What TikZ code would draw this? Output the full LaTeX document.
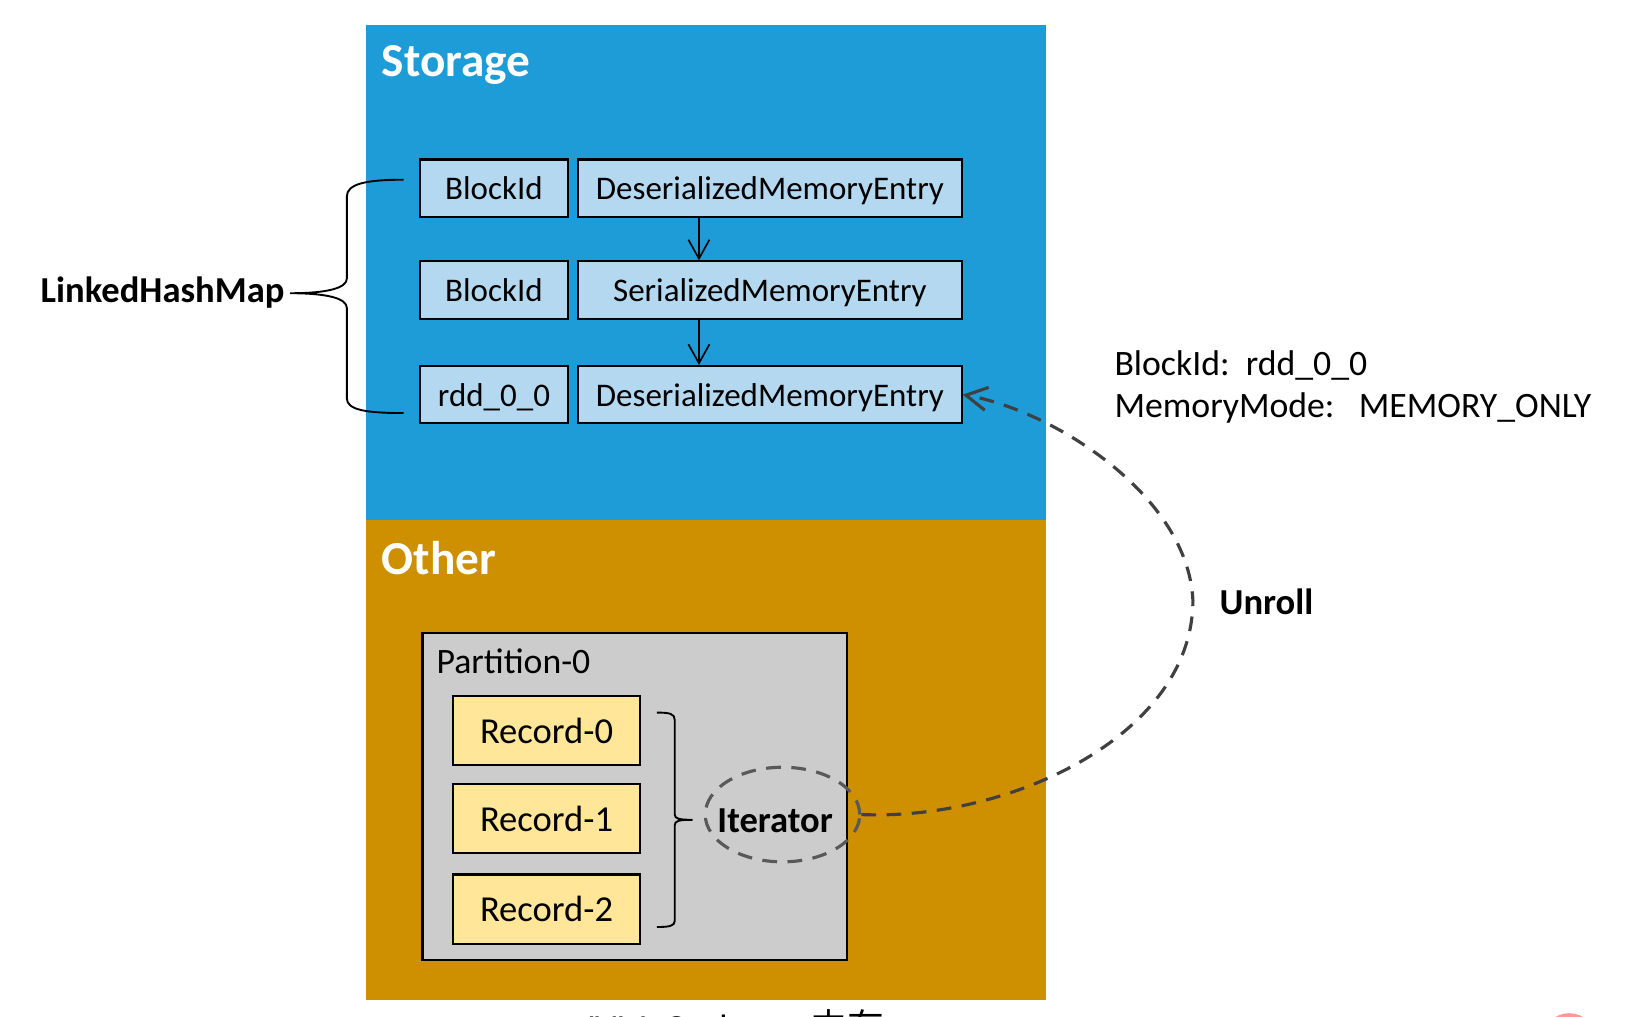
\documentclass[tikz,border=0pt]{standalone}
\usepackage{fontspec}
\setmainfont{Carlito}
\newfontfamily\cjk{Noto Sans CJK SC}
\usetikzlibrary{arrows.meta,shapes.geometric,calc}
\definecolor{storblue}{HTML}{1E9CD8}
\definecolor{othorange}{HTML}{CE8F00}
\definecolor{boxblue}{HTML}{B4D8EF}
\definecolor{recyellow}{HTML}{FFE699}
\definecolor{partgray}{HTML}{CCCCCC}
\definecolor{dashgray}{HTML}{404040}
\definecolor{ellgray}{HTML}{595959}
\tikzset{
  entrybox/.style={draw=black, line width=1pt, fill=boxblue, inner sep=0pt,
    minimum height=27.25pt, text height=13pt, text depth=2pt,
    font=\fontsize{15.7pt}{18pt}\selectfont},
  recbox/.style={draw=black, line width=1pt, fill=recyellow, inner sep=0pt,
    minimum width=89pt, minimum height=33pt, font=\fontsize{17.4pt}{20pt}\selectfont},
  flowarrow/.style={draw=black, line width=0.8pt, -{Straight Barb[length=9pt,width=10pt,line width=0.8pt]}},
  bracepath/.style={draw=black, line width=0.9pt},
  title/.style={text=white, font=\fontsize{22.5pt}{26pt}\selectfont\bfseries, inner sep=0pt},
  label/.style={font=\fontsize{17pt}{20pt}\selectfont, inner sep=0pt},
  boldlabel/.style={font=\fontsize{17.4pt}{20pt}\selectfont\bfseries, inner sep=0pt},
}
\begin{document}
\begin{tikzpicture}[x=0.5pt,y=-0.5pt]
\useasboundingbox (0,0) rectangle (1568,967);
\clip (0,0) rectangle (1568,967);
\fill[white] (0,0) rectangle (1568,967);

% regions
\fill[storblue] (348,24) rectangle (995,495);
\fill[othorange] (348,495) rectangle (995,951);
\node[title, anchor=base west] (storage) at (363,73) {Storage};
\node[title, anchor=base west] (other) at (363,547) {Other};

% storage entries
\node[entrybox, minimum width=70pt] (b1) at (470,179) {BlockId};
\node[entrybox, minimum width=182.5pt] (d1) at (732.5,179) {DeserializedMemoryEntry};
\node[entrybox, minimum width=70pt] (b2) at (470,276) {BlockId};
\node[entrybox, minimum width=182.5pt] (d2) at (732.5,276) {SerializedMemoryEntry};
\node[entrybox, minimum width=70pt] (b3) at (470,375.5) {rdd\_0\_0};
\node[entrybox, minimum width=182.5pt] (d3) at (732.5,375.5) {DeserializedMemoryEntry};

\coordinate (ax) at (665,0);
\draw[flowarrow] (d1.south -| ax) -- (d2.north -| ax);
\draw[flowarrow] (d2.south -| ax) -- (d3.north -| ax);

% LinkedHashMap brace
\node[boldlabel, anchor=base east] (lhm) at (271,288) {LinkedHashMap};
\coordinate (btip) at (276,279);
\draw[bracepath] (384,171) .. controls (348,171) and (330,175) .. (330,187)
  -- (330,265) .. controls (330,274) and (312,279) .. (btip)
  .. controls (312,279) and (330,284) .. (330,293)
  -- (330,379) .. controls (330,390) and (348,393) .. (384,393);

% partition
\node[draw=black, line width=1pt, fill=partgray, minimum width=202pt, minimum height=155.5pt, inner sep=0pt] (part) at (604,757.5) {};
\node[label, anchor=base west] (ptitle) at (415,641) {Partition-0};
\node[recbox] (r0) at (520,695) {Record-0};
\node[recbox] (r1) at (520,779) {Record-1};
\node[recbox] (r2) at (520,865) {Record-2};

% records brace
\draw[bracepath] (625,678) .. controls (637,678) and (642,679) .. (642,685)
  -- (642,775) .. controls (642,779) and (646,780) .. (659,780)
  .. controls (646,780) and (642,781) .. (642,785)
  -- (642,876) .. controls (642,881) and (637,882) .. (625,882);

% iterator
\node[draw=ellgray, dash pattern=on 7pt off 5pt, line width=1.5pt, ellipse, minimum width=73.5pt, minimum height=45pt, inner sep=0pt] (it) at (744.5,775) {};
\node[boldlabel, anchor=base] (ittext) at (737.5,792) {Iterator};

% unroll curve
\draw[dashgray, line width=1.5pt, dash pattern=on 7pt off 5pt, -{Straight Barb[length=10pt,width=11pt,line width=1.5pt]}]
  (it.east) .. controls (960,781) and (1135,700) .. (1135,571)
  .. controls (1130,470) and (1000,390) .. (d3.east);
\node[boldlabel, anchor=base west] (unroll) at (1160,585) {Unroll};

% block info
\node[label, anchor=base west] (info1) at (1060,357) {BlockId:~~rdd\_0\_0};
\node[label, anchor=base west] (info2) at (1060,397) {MemoryMode:~~~MEMORY\_ONLY};

% bottom caption (cut off at the page edge, as in the reference)
\node[font=\fontsize{17.5pt}{21pt}\selectfont, inner sep=0pt, anchor=north west] (cap) at (555,960) {JVM~~On-heap~~{\cjk 内存}};
% watermark fragment
\fill[red!40] (1493,990) circle (26);
\end{tikzpicture}
\end{document}
